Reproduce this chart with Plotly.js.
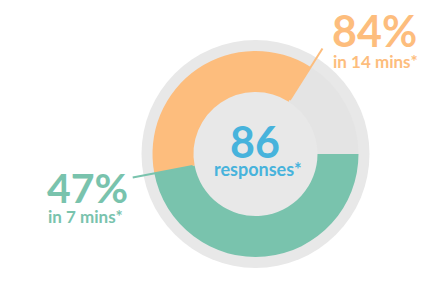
<!DOCTYPE html>
<html><head><meta charset="utf-8">
<script src="https://cdn.plot.ly/plotly-3.0.1.min.js"></script>
<style>html,body{margin:0;padding:0;background:#fff}#chart{width:443px;height:292px}</style>
</head><body><div id="chart"></div>
<script>
const sliceLabels = ['in 7 mins', 'in 14 mins', 'remaining'];
const sliceValues = [47, 37, 16];
const cumulativeLabels = ['47%', '84%'];
const subLabels = ['in 7 mins*', 'in 14 mins*'];
const totalResponses = '86';
const totalLabel = 'responses*';

const W = 443, H = 292;
const cx = 255.5, cy = 154;       // pie centre in px
const R = 103, Rbg = 114, holeR = 62;
const rotation = 90;
const teal = '#79c3ad', orange = '#fdbd7d', blue = '#47b3dc';
const sliceColors = [teal, orange, '#e4e4e4'];

function dom(r) {
  return {x: [(cx - r) / W, (cx + r) / W], y: [(H - cy - r) / H, (H - cy + r) / H]};
}

const bg = {type: 'pie', values: [1], labels: ['bg'], domain: dom(Rbg), sort: false,
  marker: {colors: ['#e8e8e8'], line: {width: 0}}, textinfo: 'none', hoverinfo: 'skip', showlegend: false};
const main = {type: 'pie', values: sliceValues, labels: sliceLabels, domain: dom(R), hole: holeR / R,
  sort: false, direction: 'clockwise', rotation: rotation,
  marker: {colors: sliceColors, line: {width: 0}}, textinfo: 'none', hoverinfo: 'label+value', showlegend: false};

const total = sliceValues.reduce((a, b) => a + b, 0);
function pt(angleDeg, r) {
  const a = angleDeg * Math.PI / 180;
  return [(cx + r * Math.sin(a)) / W, 1 - (cy - r * Math.cos(a)) / H];
}
const shapes = [];
let cum = 0;
const lineColors = [teal, orange];
for (let i = 0; i < 2; i++) {
  cum += sliceValues[i];
  const ang = rotation + cum / total * 360;
  const p0 = pt(ang, holeR + 2), p1 = pt(ang, 125);
  shapes.push({type: 'line', xref: 'paper', yref: 'paper', x0: p0[0], y0: p0[1], x1: p1[0], y1: p1[1],
    line: {color: lineColors[i], width: 2}});
}

const F = 'Lato, "Open Sans", sans-serif';
const ann = (text, x, y, size, color, xanchor) => ({text: '<b>' + text + '</b>', x: x / W, y: 1 - y / H,
  xref: 'paper', yref: 'paper', xanchor: xanchor, yanchor: 'middle', showarrow: false,
  font: {family: F, size: size, color: color}});

const annotations = [
  ann(cumulativeLabels[1], 330, 31, 43, orange, 'left'),
  ann(subLabels[1], 331, 61, 17, orange, 'left'),
  ann(cumulativeLabels[0], 45, 187, 41, teal, 'left'),
  ann(subLabels[0], 46, 216, 17, teal, 'left'),
  ann(totalResponses, 255, 142, 43, blue, 'center'),
  ann(totalLabel, 258, 169, 18, blue, 'center')
];

Plotly.newPlot('chart', [bg, main], {
  width: W, height: H, margin: {l: 0, r: 0, t: 0, b: 0},
  paper_bgcolor: '#fff', plot_bgcolor: '#fff', shapes: shapes, annotations: annotations
}, {displayModeBar: false, staticPlot: true});
</script></body></html>
